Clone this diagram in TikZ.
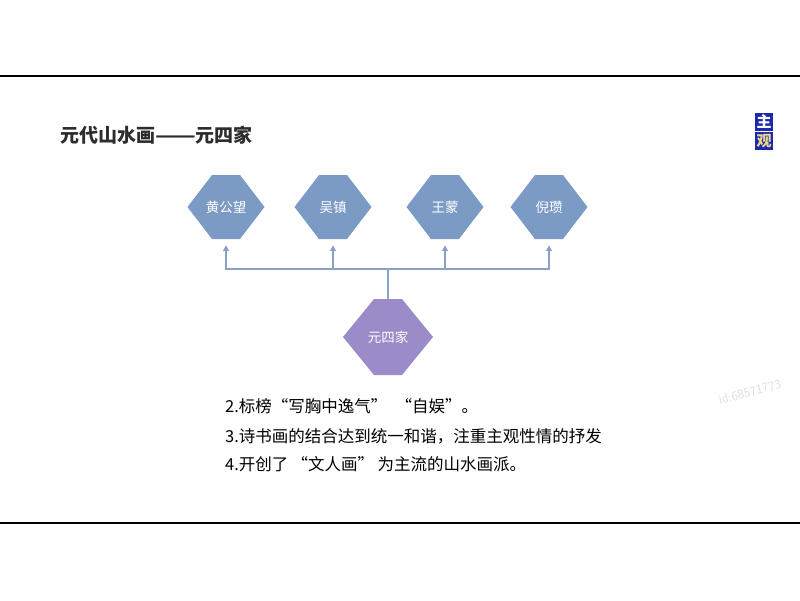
\documentclass[tikz,border=0pt]{standalone}
\usepackage{fontspec}
\newfontfamily\cjk{Noto Sans CJK SC}
\usetikzlibrary{arrows.meta}
\definecolor{hexblue}{RGB}{124,155,196}
\definecolor{hexpurple}{RGB}{155,140,201}
\definecolor{linecol}{RGB}{136,162,196}
\definecolor{titlegray}{RGB}{45,45,45}
\definecolor{boxblue}{RGB}{30,40,175}
\definecolor{tanyel}{RGB}{235,215,140}
\tikzset{
  hexshape/.style n args={4}{minimum width=#1, minimum height=#2, inner sep=0pt,
    text=white, font=\cjk\fontsize{13.5}{15}\selectfont,
    path picture={\fill[#4] (path picture bounding box.west)
      -- ([xshift=-#3]path picture bounding box.north)
      -- ([xshift=#3]path picture bounding box.north)
      -- (path picture bounding box.east)
      -- ([xshift=#3]path picture bounding box.south)
      -- ([xshift=-#3]path picture bounding box.south) -- cycle;}},
  leafhex/.style={hexshape={77pt}{64pt}{14pt}{hexblue}},
  roothex/.style={hexshape={90pt}{76pt}{14pt}{hexpurple}},
  conn/.style={draw=linecol, line width=2.2pt},
  arr/.style={conn, -{Triangle[width=6pt,length=6pt]}},
  bodytext/.style={anchor=west, inner sep=0pt, text=black, font=\cjk\fontsize{16.5}{18}\selectfont},
  tagbox/.style={fill=boxblue, minimum width=18pt, minimum height=18pt, inner sep=0pt, font=\cjk\bfseries\fontsize{15}{16}\selectfont},
  frameline/.style={draw=black, line width=1.8pt}
}
\begin{document}
\begin{tikzpicture}[x=1pt,y=-1pt]
\useasboundingbox (0,0) rectangle (800,600);
\fill[white] (0,0) rectangle (800,600);
% frame lines
\coordinate (tl) at (0,76); \coordinate (tr) at (800,76);
\coordinate (bl) at (0,523); \coordinate (br) at (800,523);
\draw[frameline] (tl) -- (tr);
\draw[frameline] (bl) -- (br);
% title
\node[anchor=west, inner sep=0pt, text=titlegray, font=\cjk\bfseries\fontsize{19}{21}\selectfont] (title) at (60,135) {元代山水画\scalebox{1.25}[1]{——}元四家};
% tag
\node[tagbox, text=white] (tag1) at (764,122) {主};
\node[tagbox, text=tanyel] (tag2) at (764,141) {观};
% hexagons
\node[leafhex] (h1) at (226,207) {黄公望};
\node[leafhex] (h2) at (333,207) {吴镇};
\node[leafhex] (h3) at (445,207) {王蒙};
\node[leafhex] (h4) at (549,207) {倪瓒};
\node[roothex] (root) at (388,337) {元四家};
% connectors
\coordinate (hub) at (388,269);
\draw[conn] (root.north) -- (hub);
\draw[arr] (hub) -| ([yshift=-6pt]h1.south);
\draw[arr] (hub) -| ([yshift=-6pt]h2.south);
\draw[arr] (hub) -| ([yshift=-6pt]h3.south);
\draw[arr] (hub) -| ([yshift=-6pt]h4.south);
% body text
\node[bodytext] (l2) at (225,406) {2.标榜“写胸中逸气”\hspace{0.5em}“自娱”。};
\node[bodytext] (l3) at (225,436) {3.诗书画的结合达到统一和谐，注重主观性情的抒发};
\node[bodytext] (l4) at (225,464) {4.开创了\hspace{0.2em}“文人画”\hspace{0.2em}为主流的山水画派。};
% watermark
\node[text=black!13, rotate=15, font=\sffamily\fontsize{13}{14}\selectfont] (wm) at (750,392) {id:68571773};
\end{tikzpicture}
\end{document}
